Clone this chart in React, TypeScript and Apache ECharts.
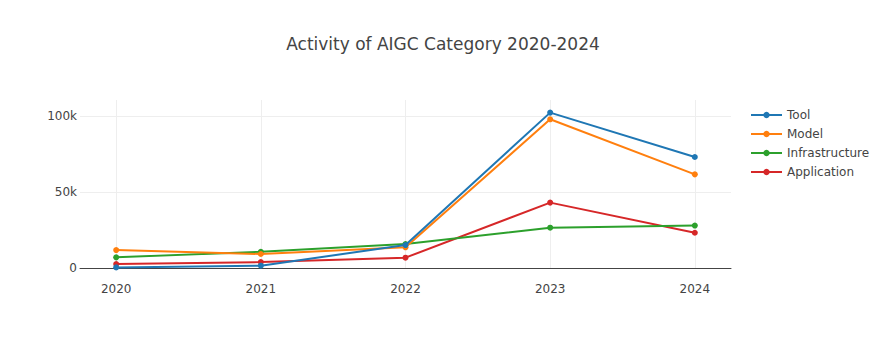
import React, { useEffect, useRef } from "react";
import * as echarts from "echarts";

const years = [2020, 2021, 2022, 2023, 2024];
const toolValues = [400, 1500, 15100, 102200, 73000];
const modelValues = [11800, 9200, 13600, 97800, 61600];
const infraValues = [7000, 10700, 15800, 26500, 27900];
const appValues = [2600, 3900, 6800, 43000, 23200];
const seriesNames = ["Tool", "Model", "Infrastructure", "Application"];
const colors = ["#1f77b4", "#ff7f0e", "#2ca02c", "#d62728"];
const yTicks = [0, 50000, 100000];

const FONT = '"DejaVu Sans", Verdana, sans-serif';

export default function App() {
  const ref = useRef<HTMLDivElement>(null);
  useEffect(() => {
    if (!ref.current) return;
    const chart = echarts.init(ref.current, null, { renderer: "svg" });
    const all = [toolValues, modelValues, infraValues, appValues];
    chart.setOption({
      animation: false,
      backgroundColor: "#fff",
      textStyle: { fontFamily: FONT },
      title: {
        text: "Activity of AIGC Category 2020-2024",
        left: "center",
        top: 30,
        textStyle: { fontFamily: FONT, fontSize: 17, fontWeight: "normal", color: "#444" },
      },
      legend: {
        orient: "vertical",
        left: 745,
        top: 104,
        itemWidth: 31,
        itemHeight: 8,
        itemGap: 7,
        textStyle: { fontFamily: FONT, fontSize: 12, color: "#444" },
        data: seriesNames,
      },
      grid: { left: 80, right: 155, top: 100, bottom: 92, containLabel: false },
      xAxis: {
        type: "value",
        min: 2019.75,
        max: 2024.25,
        interval: 0.25,
        axisLine: { show: true, onZero: false, lineStyle: { color: "#444", width: 1 } },
        axisTick: { show: false, customValues: years },
        axisLabel: {
          customValues: years,
          margin: 15,
          color: "#444",
          fontSize: 12,
          fontFamily: FONT,
          formatter: (v: number) => String(v),
        },
        splitLine: { show: true, lineStyle: { color: "#eee", width: 1 } },
      },
      yAxis: {
        type: "value",
        min: 0,
        max: 110500,
        interval: 50000,
        axisLine: { show: false },
        axisTick: { show: false, customValues: yTicks },
        axisLabel: {
          customValues: yTicks,
          margin: 3,
          color: "#444",
          fontSize: 12,
          fontFamily: FONT,
          formatter: (v: number) => (v === 0 ? "0" : v / 1000 + "k"),
        },
        splitLine: { show: true, lineStyle: { color: "#eee", width: 1 } },
      },
      series: seriesNames.map((name, i) => ({
        name,
        type: "line",
        data: years.map((y, j) => [y, all[i][j]]),
        symbol: "circle",
        symbolSize: 6,
        showSymbol: true,
        lineStyle: { width: 2, color: colors[i] },
        itemStyle: { color: colors[i] },
        z: 10 - i,
      })),
    });
    return () => chart.dispose();
  }, []);
  return (
    <div
      ref={ref}
      style={{ position: "absolute", left: 0, top: 0, width: 886, height: 360 }}
    />
  );
}
